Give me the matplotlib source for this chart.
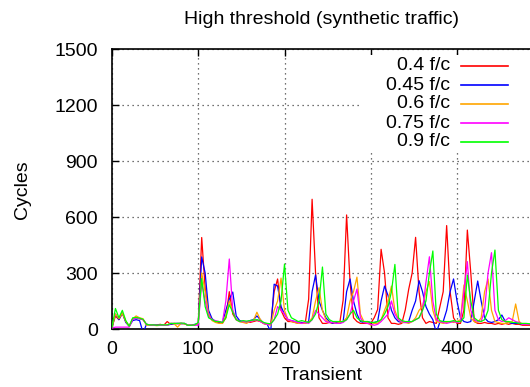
import matplotlib
matplotlib.use("Agg")
import matplotlib.pyplot as plt
from matplotlib.lines import Line2D
from matplotlib.patches import Rectangle
import numpy as np

plt.rcParams['font.family'] = ['Liberation Sans', 'DejaVu Sans']

# x positions (transient index), sampled every 4
x_step = 4
n_points = 122

red = [10, 70, 50, 85, 40, 15, 55, 60, 55, 50, 25, 22, 20, 22, 25, 20, 40, 25, 30, 28,
       30, 28, 20, 20, 20, 30, 490, 220, 80, 50, 40, 35, 30, 60, 200, 80, 50, 40, 38, 40,
       35, 40, 45, 40, 30, 25, 25, 200, 268, 100, 60, 40, 40, 35, 30, 35, 30, 160, 695, 300,
       60, 30, 30, 35, 30, 40, 30, 155, 611, 250, 60, 40, 30, 30, 30, 30, 60, 105, 427, 300,
       60, 30, 30, 25, 30, 102, 213, 300, 491, 200, 60, 30, 40, 35, 30, 116, 200, 554, 200, 60,
       30, 30, 100, 530, 300, 40, 30, 30, 35, 30, 30, 25, 30, 25, 30, 25, 30, 25, 25, 20,
       20, 20]
blue = [10, 80, 50, 85, 35, 15, 45, 50, 45, -20, 25, 22, 22, 20, 22, 20, 20, 25, 28, 30,
        28, 30, 20, 20, 25, 30, 386, 300, 100, 55, 40, 38, 35, 100, 160, 198, 70, 45, 40, 38,
        45, 50, 70, 50, 30, 25, -15, 240, 230, 120, 80, 50, 45, 40, 35, 35, 30, 40, 200, 289,
        150, 100, 60, 40, 30, 35, 30, 40, 200, 268, 150, 80, 40, 35, 40, 35, 35, 40, 150, 230,
        180, 100, 60, 40, 35, 35, 40, 100, 150, 259, 200, 120, 80, 50, -20, 35, 40, 100, 200, 268,
        150, 60, 40, 35, 40, 150, 257, 150, 60, 40, 35, 40, 50, 75, 40, 35, 30, 30, 30, 25,
        25, 25]
orange = [10, 80, 55, 85, 40, 15, 55, 70, 60, 55, 20, 22, 20, 18, 20, 22, 20, 30, 28, 10,
          30, 28, 20, 20, 22, 30, 300, 200, 80, 45, 35, 30, 30, 70, 150, 100, 50, 40, 35, 30,
          40, 45, 90, 50, 28, 25, 20, 100, 150, 273, 100, 50, 40, 35, 30, 30, 30, 35, 60, 150,
          221, 100, 50, 35, 35, 30, 35, 40, 60, 150, 200, 278, 80, 40, 35, 20, 30, 30, 50, 100,
          150, 230, 100, 50, 35, 35, 30, 40, 60, 100, 120, 200, 254, 100, 40, 35, 30, 35, 40, 35,
          40, 50, 236, 150, 60, 40, 35, 60, 200, 268, 100, 40, 35, 30, 30, 35, 40, 134, 40, 25,
          25, 25]
magenta = [5, 10, 10, 10, 10, 10, 50, 60, 55, 50, 25, 22, 20, 20, 20, 20, 20, 30, 30, 30,
           30, 30, 20, 20, 20, 20, 250, 150, 70, 50, 45, 40, 35, 150, 375, 100, 50, 40, 40, 40,
           40, 45, 50, 40, 30, 25, 25, 50, 120, 100, 80, 50, 45, 40, 35, 30, 35, 30, 50, 100,
           80, 60, 40, 35, 35, 30, 30, 35, 50, 80, 150, 214, 60, 35, 30, 25, 20, 25, 40, 60,
           80, 150, 80, 50, 40, 35, 35, 40, 50, 60, 100, 250, 387, 150, 50, 40, 35, 30, 35, 40,
           35, 40, 200, 361, 100, 50, 40, 40, 100, 300, 409, 100, 50, 40, 45, 60, 50, 40, 35, 25,
           25, 25]
green = [10, 110, 60, 100, 45, 15, 60, 62, 58, 52, 25, 22, 22, 20, 22, 22, 22, 30, 30, 30,
         32, 30, 20, 20, 22, 35, 270, 120, 60, 50, 40, 40, 35, 60, 130, 90, 50, 40, 45, 42,
         45, 48, 50, 45, 35, 30, 28, 50, 80, 150, 348, 100, 60, 50, 40, 45, 40, 35, 50, 80,
         150, 332, 80, 50, 40, 40, 40, 40, 50, 80, 100, 60, 45, 40, 40, 35, 35, 40, 50, 80,
         120, 200, 346, 60, 45, 40, 40, 40, 50, 60, 100, 150, 300, 418, 80, 45, 40, 40, 40, 45,
         40, 40, 60, 289, 150, 60, 45, 40, 50, 100, 300, 423, 100, 50, 40, 40, 35, 35, 30, 30,
         30, 28]

labels = ["0.4 f/c", "0.45 f/c", "0.6 f/c", "0.75 f/c", "0.9 f/c"]
colors = ["#ff0000", "#0000ff", "#ffa500", "#ff00ff", "#00ff00"]
series = [red, blue, orange, magenta, green]
xticks = [0, 100, 200, 300, 400]
yticks = [0, 300, 600, 900, 1200, 1500]

x = np.arange(n_points) * x_step

W, H = 530, 387
FS = 14
fig = plt.figure(figsize=(W / 100, H / 100), dpi=100)
ax_left = 112 / W
ax_bottom = (H - 329) / H
ax_height = (329 - 49) / H
ax_width = 500 * 0.8625 / W
ax = fig.add_axes([ax_left, ax_bottom, ax_width, ax_height])

for ys, c in zip(series, colors):
    ax.plot(x, ys, color=c, lw=0.9, zorder=3)

ax.set_xlim(0, 500)
ax.set_ylim(0, 1500)
ax.set_xticks(xticks)
ax.set_yticks(yticks)
ax.tick_params(direction='in', top=True, right=True, length=5, width=1,
               labelsize=FS, colors='black')
ax.tick_params(axis='y', pad=10)
ax.tick_params(axis='x', pad=9)
ax.grid(True, linestyle=(0, (1, 3)), color='#444444', lw=0.9)
for s in ax.spines.values():
    s.set_linewidth(1.2)

# legend (opaque, no frame, right-aligned text, sample after text)
leg_bg = Rectangle((360 / W, (H - 153) / H), (530 - 360) / W, 98 / H,
                   transform=fig.transFigure, facecolor='white', edgecolor='none', zorder=5)
fig.patches.append(leg_bg)
rows = [66, 85, 104, 123, 142]
for lab, c, ry in zip(labels, colors, rows):
    fig.text(450 / W, (H - ry) / H, lab, ha='right', va='center', fontsize=FS, zorder=6)
    fig.add_artist(Line2D([461 / W, 508 / W], [(H - ry) / H] * 2, color=c, lw=1.2,
                          transform=fig.transFigure, zorder=6))

fig.text(322 / W, (H - 20) / H, "High threshold (synthetic traffic)", ha='center',
         va='center', fontsize=FS)
fig.text(322 / W, (H - 376) / H, "Transient", ha='center', va='center', fontsize=FS)
fig.text(22 / W, (H - 190) / H, "Cycles", ha='center', va='center', fontsize=FS,
         rotation=90)

fig.savefig("out.png", dpi=100)
